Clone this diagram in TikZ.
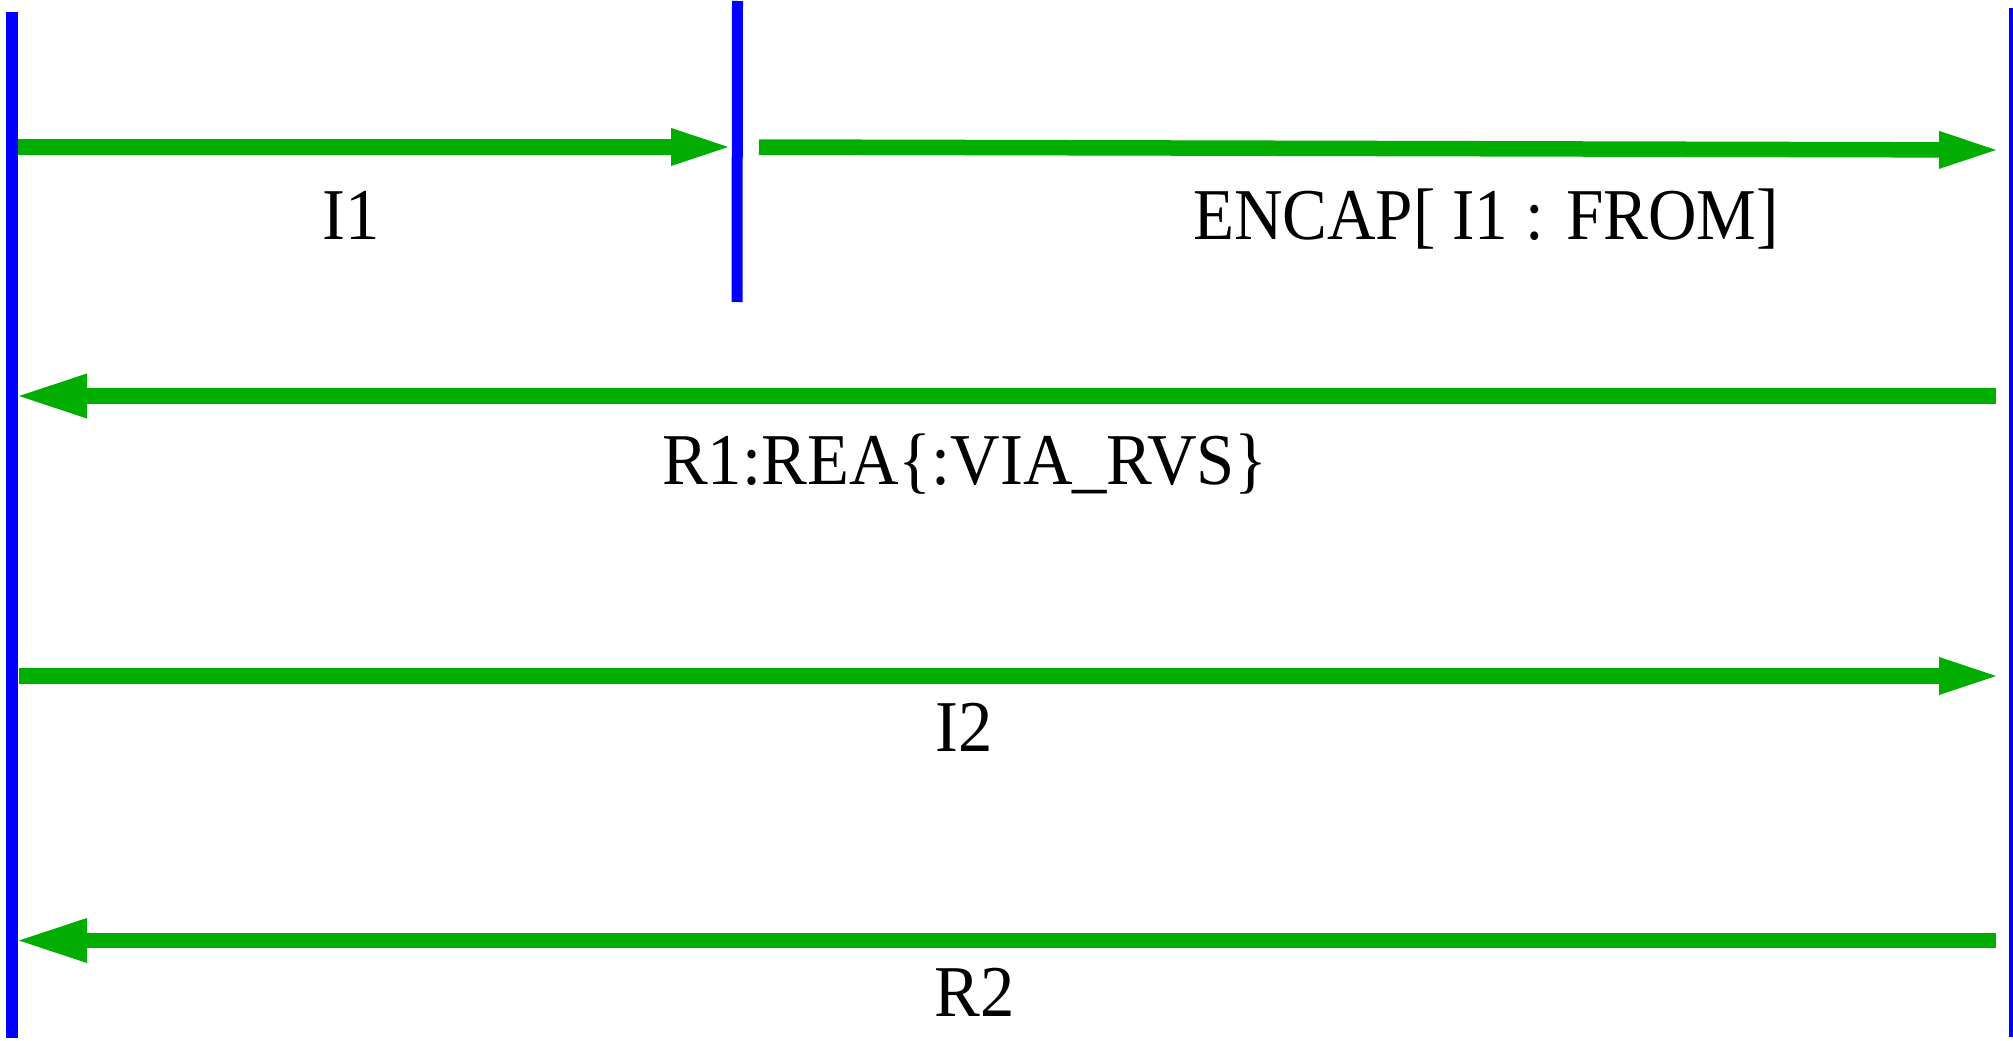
\documentclass[tikz,border=0pt]{standalone}
\usepackage{fontspec}
\setmainfont{Liberation Serif}
\usetikzlibrary{arrows.meta}
\definecolor{msggreen}{RGB}{0,173,0}
\definecolor{lifeblue}{RGB}{0,0,255}
\newcommand{\narrow}[2]{\scalebox{#1}[1]{#2}}
\begin{document}
\begin{tikzpicture}[x=1pt,y=-1pt,
  lifeline/.style={draw=lifeblue,line width=#1,line cap=butt},
  msgright/.style={draw=msggreen,line width=15.5pt,line cap=butt,
    -{Triangle[length=57pt,width=38pt,line width=0pt,fill=msggreen]}},
  msgleft/.style={draw=msggreen,line width=15.5pt,line cap=butt,
    -{Triangle[length=68pt,width=45pt,line width=0pt,fill=msggreen]}},
  lbl/.style={font=\fontsize{73}{80}\selectfont,inner sep=0pt,anchor=base}]
\useasboundingbox (0,0) rectangle (2013,1041);

% lifelines
\coordinate (Ltop) at (12,12);    \coordinate (Lbot) at (12,1037.5);
\coordinate (Mtop) at (737.5,1);  \coordinate (Mbot) at (737,302);
\coordinate (Rtop) at (2013,8);   \coordinate (Rbot) at (2013,1037);
\draw[lifeline=12pt] (Ltop) -- (Lbot);
\draw[lifeline=11pt] (Mtop) -- (Mbot);
\draw[lifeline=8pt]  (Rtop) -- (Rbot);

% message end points
\coordinate (a1s) at (18,147);     \coordinate (a1e) at (728,147);
\coordinate (a2s) at (759,147);    \coordinate (a2e) at (1996,150);
\coordinate (a3s) at (1996,396);   \coordinate (a3e) at (19,396);
\coordinate (a4s) at (18.5,676);   \coordinate (a4e) at (1996,676);
\coordinate (a5s) at (1996,940.5); \coordinate (a5e) at (19,940.5);

\draw[msgright] (a1s) -- (a1e);
\draw[msgright] (a2s) -- (a2e);
\draw[msgleft]  (a3s) -- (a3e);
\draw[msgright] (a4s) -- (a4e);
\draw[msgleft]  (a5s) -- (a5e);

% labels
\node[lbl] (t1) at (351,239)     {\narrow{0.94}{I1}};
\node[lbl] (t2) at (1486,239)    {\narrow{0.92}{ENCAP[ I1 : FROM]}};
\node[lbl] (t3) at (965,484)     {\narrow{0.94}{R1:REA\{:VIA\_RVS\}}};
\node[lbl] (t4) at (964,751.7)   {\narrow{0.94}{I2}};
\node[lbl] (t5) at (975,1016.7)  {\narrow{0.94}{R2}};
\end{tikzpicture}
\end{document}
